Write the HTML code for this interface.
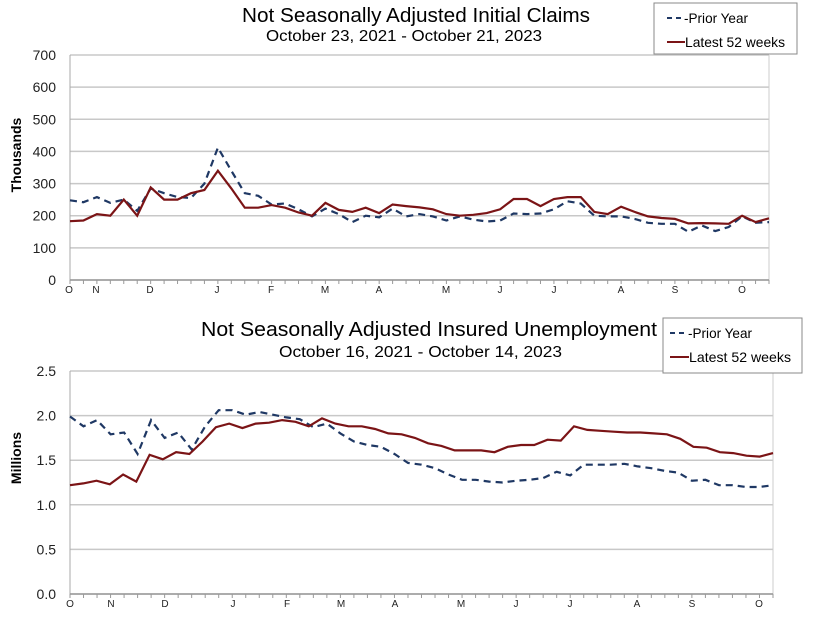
<!DOCTYPE html>
<html><head><meta charset="utf-8"><style>
body{margin:0;background:#fff;}
svg text{font-family:"Liberation Sans",Arial,sans-serif;}
</style></head><body>
<svg id="s" width="818" height="617" xmlns="http://www.w3.org/2000/svg">
<rect width="818" height="617" fill="#fff"/>
<g id="g"></g>
<text x="242" y="22" font-size="20" textLength="348" lengthAdjust="spacingAndGlyphs">Not Seasonally Adjusted Initial Claims</text>
<text x="266" y="41" font-size="15.5" textLength="276" lengthAdjust="spacingAndGlyphs">October 23, 2021  - October 21, 2023</text>
<text x="201" y="336" font-size="20" textLength="456" lengthAdjust="spacingAndGlyphs">Not Seasonally Adjusted Insured Unemployment</text>
<text x="279" y="357" font-size="15.5" textLength="283" lengthAdjust="spacingAndGlyphs">October 16, 2021 - October 14, 2023</text>
<text transform="translate(21,155) rotate(-90)" font-size="14" font-weight="bold" text-anchor="middle">Thousands</text>
<text transform="translate(21,458) rotate(-90)" font-size="14" font-weight="bold" text-anchor="middle">Millions</text>
<rect x="654" y="3" width="143" height="51" fill="#fff" stroke="#888"/>
<line x1="667" y1="18" x2="684" y2="18" stroke="#1f3864" stroke-width="2" stroke-dasharray="5,4"/>
<text x="684" y="23" font-size="14" textLength="64" lengthAdjust="spacingAndGlyphs">-Prior Year</text>
<line x1="667" y1="42" x2="685" y2="42" stroke="#7b1416" stroke-width="2"/>
<text x="685" y="47" font-size="14" textLength="100" lengthAdjust="spacingAndGlyphs">Latest 52 weeks</text>
<rect x="663" y="318" width="139" height="55" fill="#fff" stroke="#888"/>
<line x1="670" y1="333" x2="688" y2="333" stroke="#1f3864" stroke-width="2" stroke-dasharray="5,4"/>
<text x="688" y="338" font-size="14" textLength="64" lengthAdjust="spacingAndGlyphs">-Prior Year</text>
<line x1="670" y1="357" x2="689" y2="357" stroke="#7b1416" stroke-width="2"/>
<text x="689" y="362" font-size="14" textLength="102" lengthAdjust="spacingAndGlyphs">Latest 52 weeks</text>
</svg>
<script>
var g=document.getElementById('g'),h='';
function chart(x0,x1,y0,y1,max,step,fmt,months,mx,lat,pri){
 var n=Math.round(max/step);
 for(var i=0;i<=n;i++){var y=y1-(y1-y0)*i/n;
  h+='<line x1="'+x0+'" x2="'+x1+'" y1="'+y+'" y2="'+y+'" stroke="#c8c8c8" stroke-width="1.5"/>';
  h+='<text x="'+(x0-14)+'" y="'+(y+5)+'" font-size="14" text-anchor="end" fill="#222">'+fmt(step*i)+'</text>';}
 h+='<line x1="'+x0+'" x2="'+x0+'" y1="'+y0+'" y2="'+y1+'" stroke="#aaa"/>';
 h+='<line x1="'+x1+'" x2="'+x1+'" y1="'+y0+'" y2="'+y1+'" stroke="#ccc"/>';
 h+='<line x1="'+x0+'" x2="'+x1+'" y1="'+y1+'" y2="'+y1+'" stroke="#999" stroke-width="1.5"/>';
 for(var k=0;k<=52;k++){var x=x0+(x1-x0)*k/52;h+='<line x1="'+x+'" x2="'+x+'" y1="'+y1+'" y2="'+(y1+4)+'" stroke="#999"/>';}
 for(var m=0;m<months.length;m++)h+='<text x="'+mx[m]+'" y="'+(y1+13)+'" font-size="10" text-anchor="middle" fill="#222">'+months[m]+'</text>';
 function pts(a){return a.map(function(v,i){return (x0+(x1-x0)*i/(a.length-1)).toFixed(1)+','+(y1-(y1-y0)*v/max).toFixed(1)}).join(' ');}
 h+='<polyline points="'+pts(pri)+'" fill="none" stroke="#1f3864" stroke-width="2.2" stroke-dasharray="7,5"/>';
 h+='<polyline points="'+pts(lat)+'" fill="none" stroke="#7b1416" stroke-width="2.2"/>';
}
chart(70,769,55,280,700,100,function(v){return v},
 ['O','N','D','J','F','M','A','M','J','J','A','S','O'],[69,96,150,217,271,325,379,446,500,554,621,675,742],
 [183,185,205,200,250,200,288,250,250,270,280,340,285,225,225,233,225,210,200,240,218,212,225,208,235,230,226,220,205,200,203,208,220,252,252,230,252,258,258,212,205,228,212,198,193,190,176,177,176,175,200,180,192],
 [248,242,258,240,250,215,285,270,258,255,300,412,340,270,262,235,238,220,198,222,205,180,200,195,222,198,205,198,185,198,188,182,185,207,205,207,220,245,238,200,198,198,190,178,175,175,150,170,152,165,198,178,180]);
chart(70,773,371,594,2.5,0.5,function(v){return v.toFixed(1)},
 ['O','N','D','J','F','M','A','M','J','J','A','S','O'],[70,111,165,233,287,341,395,461,516,570,637,692,759],
 [1.22,1.24,1.27,1.23,1.34,1.26,1.56,1.51,1.59,1.57,1.71,1.87,1.91,1.86,1.91,1.92,1.95,1.93,1.88,1.97,1.91,1.88,1.88,1.85,1.80,1.79,1.75,1.69,1.66,1.61,1.61,1.61,1.59,1.65,1.67,1.67,1.73,1.72,1.88,1.84,1.83,1.82,1.81,1.81,1.80,1.79,1.74,1.65,1.64,1.59,1.58,1.55,1.54,1.58],
 [1.99,1.88,1.95,1.79,1.81,1.57,1.95,1.75,1.81,1.62,1.88,2.06,2.06,2.01,2.04,2.01,1.98,1.96,1.87,1.91,1.80,1.71,1.67,1.65,1.57,1.47,1.45,1.41,1.34,1.28,1.28,1.26,1.25,1.27,1.28,1.30,1.37,1.33,1.45,1.45,1.45,1.46,1.43,1.41,1.38,1.36,1.27,1.28,1.22,1.22,1.20,1.20,1.22]);
g.innerHTML=h;
</script>
</body></html>
